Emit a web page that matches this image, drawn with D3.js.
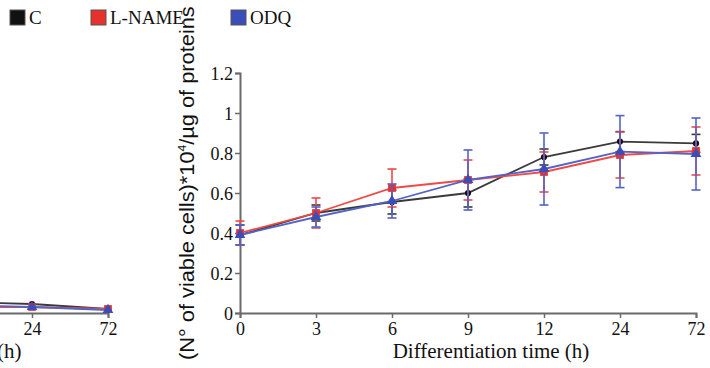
<!DOCTYPE html>
<html>
<head>
<meta charset="utf-8">
<script src="https://cdn.jsdelivr.net/npm/d3@7"></script>
<style>
  body { margin: 0; background: #fff; }
  svg { display: block; }
  .serif { font-family: 'Liberation Serif', 'DejaVu Serif', serif !important; }
  .tick text { font-family: 'Liberation Serif', 'DejaVu Serif', serif !important; font-size: 18px !important; fill: #111; }
  .sans { font-family: 'Liberation Sans', Arial, sans-serif; }
</style>
</head>
<body>
<svg id="chart" width="710" height="368"></svg>
<script>
// categories (hours)
const times = ['0', '3', '6', '9', '12', '24', '72'];
const yTicks = [0, 0.2, 0.4, 0.6, 0.8, 1, 1.2];

// main panel: mean and error per series
const cMean = [0.39, 0.50, 0.555, 0.60, 0.78, 0.857, 0.848];
const cErr = [0.05, 0.04, 0.06, 0.07, 0.04, 0.05, 0.045];
const lMean = [0.40, 0.50, 0.625, 0.665, 0.705, 0.79, 0.81];
const lErr = [0.06, 0.075, 0.095, 0.10, 0.10, 0.115, 0.12];
const oMean = [0.39, 0.48, 0.56, 0.665, 0.72, 0.807, 0.795];
const oErr = [0.05, 0.05, 0.085, 0.15, 0.18, 0.18, 0.18];

// left panel (cut off at the edge)
const leftTimes = ['12', '24', '72'];
const leftC = [0.055, 0.045, 0.02];
const leftL = [0.03, 0.03, 0.02];
const leftO = [0.04, 0.03, 0.015];

const series = [
  { name: 'C', mean: cMean, err: cErr, left: leftC, color: '#111', line: '#3a3a3a', shape: d3.symbolCircle, size: 30 },
  { name: 'L-NAME', mean: lMean, err: lErr, left: leftL, color: '#e8302c', line: '#f04a46', shape: d3.symbolSquare, size: 60 },
  { name: 'ODQ', mean: oMean, err: oErr, left: leftO, color: '#3b4db8', line: '#5363c8', shape: d3.symbolTriangle, size: 50 }
];

const svg = d3.select('#chart');

// --- Main panel ---
const x = d3.scalePoint().domain(times).range([240, 696]);
const y = d3.scaleLinear().domain([0, 1.2]).range([313, 73]);

const axisColor = '#6a6a6a';

function styleAxis(g) {
  g.attr('font-family', null).attr('font-size', null);
  g.select('.domain').attr('stroke', axisColor).attr('stroke-width', 2);
  g.selectAll('.tick line').attr('stroke', axisColor).attr('stroke-width', 1.5);
}

const gx = svg.append('g')
  .attr('transform', 'translate(0,313)')
  .call(d3.axisBottom(x).tickSize(5).tickPadding(1));
const gy = svg.append('g')
  .attr('transform', 'translate(240,0)')
  .call(d3.axisLeft(y).tickValues(yTicks).tickFormat(d3.format('')).tickSize(5).tickPadding(2));
styleAxis(gx);
styleAxis(gy);
gx.selectAll('.tick text').attr('dy', '0.9em');
gy.selectAll('.tick text').attr('dy', '0.35em');

// draw series
function drawSeries(g, xs, cats, vals, errs, s) {
  const line = d3.line().x((d, i) => xs(cats[i])).y(d => y(d));
  g.append('path').datum(vals)
    .attr('fill', 'none').attr('stroke', s.line).attr('stroke-width', 1.8)
    .attr('d', line);
  if (errs) {
    const eb = g.append('g').attr('stroke', s.line).attr('stroke-width', 1.6);
    vals.forEach((v, i) => {
      const cx = xs(cats[i]);
      eb.append('line').attr('x1', cx).attr('x2', cx).attr('y1', y(v - errs[i])).attr('y2', y(v + errs[i]));
      [v - errs[i], v + errs[i]].forEach(e => {
        eb.append('line').attr('x1', cx - 4.5).attr('x2', cx + 4.5).attr('y1', y(e)).attr('y2', y(e));
      });
    });
  }
  g.selectAll(null).data(vals).enter().append('path')
    .attr('d', d3.symbol().type(s.shape).size(s.size))
    .attr('transform', (d, i) => `translate(${xs(cats[i])},${y(d)})`)
    .attr('fill', s.color);
}

const plot = svg.append('g');
series.forEach(s => drawSeries(plot, x, times, s.mean, s.err, s));

// axis titles
svg.append('text')
  .attr('class', 'serif')
  .attr('x', 491).attr('y', 358)
  .attr('text-anchor', 'middle')
  .attr('font-size', 21).attr('fill', '#111')
  .text('Differentiation time (h)');

// y title: measured, then fitted between y=6 and y=360
const ylabG = svg.append('g');
const ylab = ylabG.append('text')
  .attr('class', 'sans')
  .attr('font-size', 20).attr('fill', '#111');
ylab.append('tspan').text('(N° of viable cells)*10');
ylab.append('tspan').attr('font-size', 11).attr('dy', -8).text('4');
ylab.append('tspan').attr('dy', 8).text('/µg of proteins');
const bb = ylab.node().getBBox();
const sx = 354 / bb.width;
ylabG.attr('transform', `translate(194,360) rotate(-90) scale(${sx},1) translate(${-bb.x},0)`);

// --- Left panel (partial) ---
const xl = d3.scalePoint().domain(leftTimes).range([-44, 108]);
const gl = svg.append('g')
  .attr('transform', 'translate(0,313)')
  .call(d3.axisBottom(xl).tickSize(5).tickPadding(1));
styleAxis(gl);
gl.selectAll('.tick text').attr('dy', '0.9em');
const lplot = svg.append('g');
series.forEach(s => drawSeries(lplot, xl, leftTimes, s.left, null, s));
svg.append('text')
  .attr('class', 'serif')
  .attr('x', -3).attr('y', 358)
  .attr('font-size', 21).attr('fill', '#111')
  .text('(h)');

// --- Legend ---
const legendX = [10, 91, 231];
series.forEach((s, i) => {
  const lg = svg.append('g').attr('transform', `translate(${legendX[i]},10)`);
  lg.append('rect').attr('width', 15).attr('height', 15)
    .attr('fill', s.color).attr('stroke', '#555').attr('stroke-width', 1);
  lg.append('text').attr('class', 'serif').attr('x', 19).attr('y', 14)
    .attr('font-size', 19).attr('fill', '#111')
    .text(s.name);
});
</script>
</body>
</html>
